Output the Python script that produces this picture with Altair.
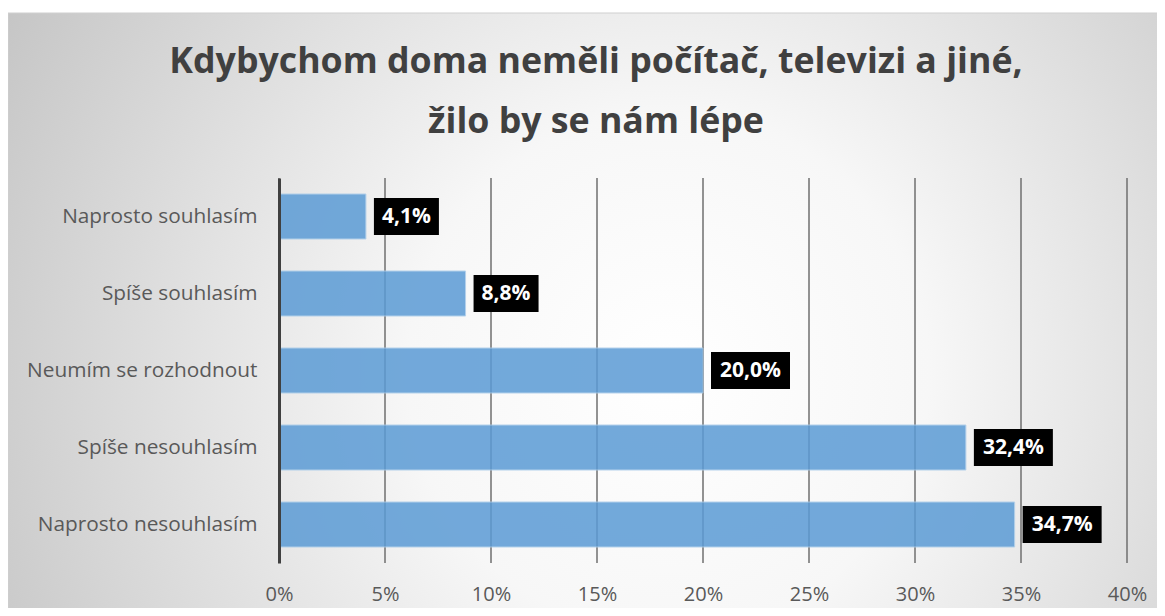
import altair as alt
import pandas as pd

categories = ["Naprosto souhlasím", "Spíše souhlasím", "Neumím se rozhodnout",
              "Spíše nesouhlasím", "Naprosto nesouhlasím"]
values = [4.1, 8.8, 20.0, 32.4, 34.7]
tick_values = [0, 5, 10, 15, 20, 25, 30, 35, 40]
title_lines = ["Kdybychom doma neměli počítač, televizi a jiné,", "žilo by se nám lépe"]

W, H = 848, 385
PL, PT, PR, PB = 271, 170, 30, 45
FONT = "Open Sans"

df = pd.DataFrame({
    "cat": categories,
    "v": values,
    "label": [f"{v:.1f}%".replace(".", ",") for v in values],
})
df["n"] = df["label"].str.len()
grid_df = pd.DataFrame({"t": tick_values})
one = pd.DataFrame({"a": [0]})

xscale = alt.Scale(domain=[0, 40], nice=False, zero=True)
yscale = alt.Scale(domain=categories, paddingInner=0.416, paddingOuter=0.208)

bg_gradient = {
    "gradient": "radial",
    "x1": 0.57, "y1": 0.55, "r1": 0.0,
    "x2": 0.57, "y2": 0.55, "r2": 0.75,
    "stops": [
        {"offset": 0.0, "color": "#ffffff"},
        {"offset": 0.3, "color": "#f7f7f7"},
        {"offset": 1.0, "color": "#bababa"},
    ],
}

background = alt.Chart(one).mark_rect(fill=bg_gradient, stroke="#cfcfcf", strokeWidth=1).encode(
    x=alt.value(-PL), x2=alt.value(W + PR + 10),
    y=alt.value(-PT + 5), y2=alt.value(H + PB + 10),
)

grid = alt.Chart(grid_df).mark_rule(color="#6f6f6f", strokeWidth=1.5).encode(
    x=alt.X("t:Q", scale=xscale,
            axis=alt.Axis(values=tick_values, labelExpr="datum.value + '%'", title=None,
                          grid=False, domain=False, ticks=False, labelPadding=21,
                          labelFlush=False, labelOverlap=False,
                          labelFontSize=20, labelColor="#595959", labelFont=FONT, zindex=1)),
    y=alt.value(0), y2=alt.value(H),
)

bars = alt.Chart(df).mark_bar(size=45, color="#5B9BD5", opacity=0.85,
                              stroke="#a9cbe9", strokeWidth=1).encode(
    x=alt.X("v:Q", scale=xscale),
    y=alt.Y("cat:N", scale=yscale, sort=categories,
            axis=alt.Axis(title=None, ticks=False, domain=True, domainColor="#404040",
                          domainWidth=3, labelPadding=22, labelFontSize=20.8, labelLimit=400,
                          labelColor="#595959", labelFont=FONT, zindex=1)),
)

box4 = alt.Chart(df).transform_filter("datum.n == 4").mark_bar(
    size=37, color="#000000", xOffset=8, x2Offset=73).encode(
    x=alt.X("v:Q", scale=xscale), x2="v:Q", y=alt.Y("cat:N", scale=yscale, sort=categories))
box5 = alt.Chart(df).transform_filter("datum.n == 5").mark_bar(
    size=37, color="#000000", xOffset=8, x2Offset=87).encode(
    x=alt.X("v:Q", scale=xscale), x2="v:Q", y=alt.Y("cat:N", scale=yscale, sort=categories))

txt4 = alt.Chart(df).transform_filter("datum.n == 4").mark_text(
    dx=40.5, align="center", baseline="middle", color="white", fontWeight="bold",
    fontSize=21, font=FONT).encode(
    x=alt.X("v:Q", scale=xscale), y=alt.Y("cat:N", scale=yscale, sort=categories), text="label:N")
txt5 = alt.Chart(df).transform_filter("datum.n == 5").mark_text(
    dx=47.5, align="center", baseline="middle", color="white", fontWeight="bold",
    fontSize=21, font=FONT).encode(
    x=alt.X("v:Q", scale=xscale), y=alt.Y("cat:N", scale=yscale, sort=categories), text="label:N")

title = alt.Chart(one).mark_text(
    text=title_lines, lineHeight=60, fontSize=35.7, font=FONT, fontWeight="bold",
    color="#404040", align="center", baseline="alphabetic").encode(
    x=alt.value(317), y=alt.value(-105))

chart = alt.layer(background, grid, bars, box4, box5, txt4, txt5, title).properties(
    width=W, height=H,
    autosize=alt.AutoSizeParams(type="none"),
    padding={"left": PL, "top": PT, "right": PR, "bottom": PB},
    background="white",
).configure_view(stroke=None)

chart.save("out.html", embed_options={"renderer": "svg", "actions": False})
